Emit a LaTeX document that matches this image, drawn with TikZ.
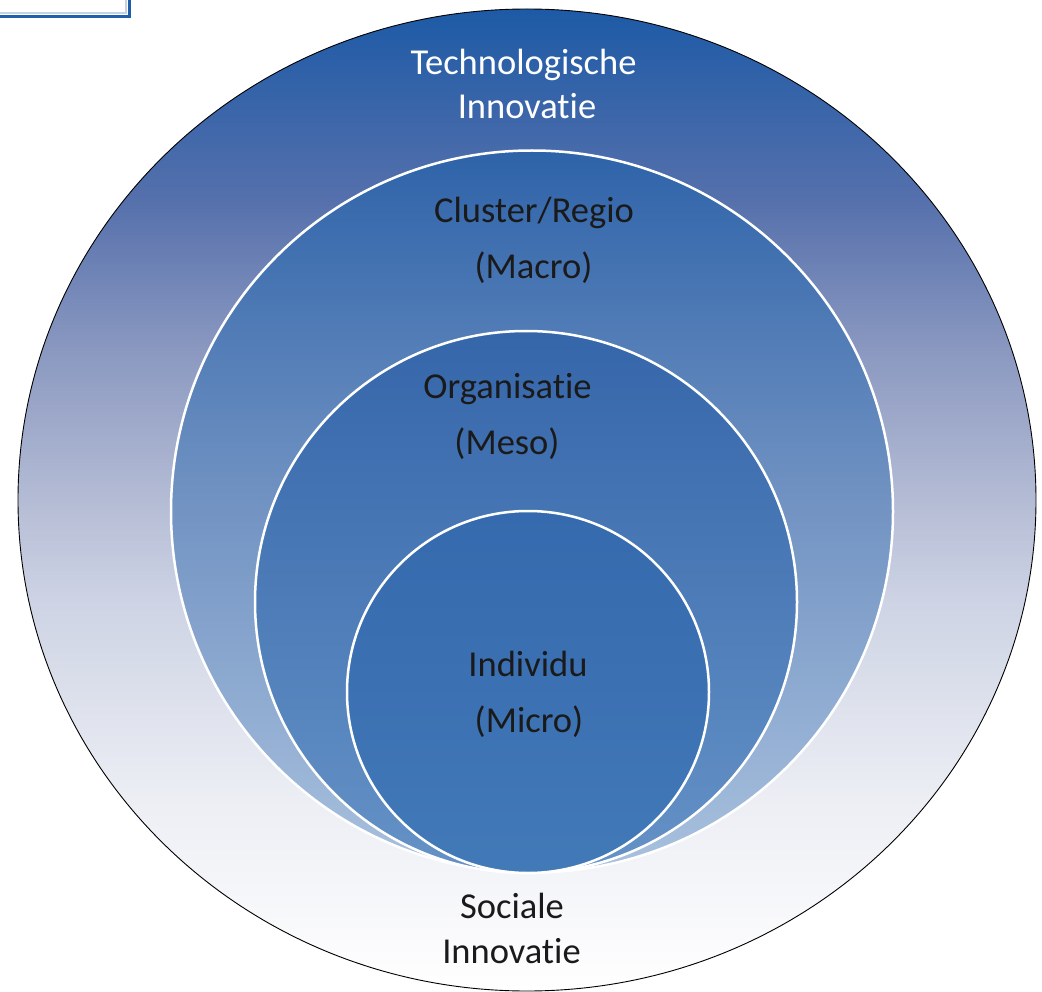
\documentclass[tikz,border=0pt]{standalone}
\usepackage{fontspec}
\setmainfont{Carlito}[Ligatures=NoCommon]
\pgfdeclareverticalshading{outershade}{100bp}{%
  color(0bp)=(white); color(25bp)=(white);
  color(34.8bp)=(rgb,255:red,236;green,238;blue,244);
  color(45bp)=(rgb,255:red,205;green,211;blue,228);
  color(50bp)=(rgb,255:red,180;green,188;blue,213);
  color(57.7bp)=(rgb,255:red,138;green,152;blue,192);
  color(65.3bp)=(rgb,255:red,85;green,112;blue,172);
  color(75bp)=(rgb,255:red,29;green,90;blue,166);
  color(100bp)=(rgb,255:red,29;green,90;blue,166)}
\definecolor{cTwoTop}{HTML}{2E63A9}
\definecolor{cTwoMid}{HTML}{7394C3}
\definecolor{cTwoBot}{HTML}{A9C1DE}
\definecolor{cThreeTop}{HTML}{3566AA}
\definecolor{cThreeBot}{HTML}{6592C6}
\definecolor{cFourTop}{HTML}{356AAE}
\definecolor{cFourBot}{HTML}{4279B7}
\definecolor{txtdark}{HTML}{1A1A1A}
\definecolor{boxblue}{HTML}{1F5FAA}
\definecolor{boxinner}{HTML}{C5D2E6}
\begin{document}
\begin{tikzpicture}[x=1pt,y=-1pt,
  ringline/.style={draw=white,line width=2.5pt},
  lbl/.style={anchor=base,inner sep=0pt,font=\fontsize{36.5}{44}\selectfont,text=txtdark},
  lblw/.style={lbl,text=white}]
\useasboundingbox (0,0) rectangle (1042,992);
% top-left partial box
\draw[draw=boxblue,line width=3pt,fill=white] (-10,-10) rectangle (129.5,16.5);
\draw[draw=boxinner,line width=1.2pt] (-10,-10) rectangle (126,13);
% outer ellipse
\path[shading=outershade,draw=black,line width=0.9pt] (527,500) ellipse [x radius=509,y radius=491];
% circle 2
\path[top color=cTwoTop,bottom color=cTwoBot,middle color=cTwoMid,ringline] (532,511.5) circle [radius=361];
% circle 3
\path[top color=cThreeTop,bottom color=cThreeBot,ringline] (526,602) circle [radius=271];
% circle 4
\path[top color=cFourTop,bottom color=cFourBot,ringline] (528,692) circle [radius=181];
% labels
\node[lblw] (tech1) at (523.5,75) {Technologische};
\node[lblw] (tech2) at (527,119) {Innovatie};
\node[lbl] (clus1) at (534,223) {Cluster/Regio};
\node[lbl] (clus2) at (533.5,279) {(Macro)};
\node[lbl] (org1) at (507.5,399) {Organisatie};
\node[lbl] (org2) at (507,454) {(Meso)};
\node[lbl] (ind1) at (528,676) {Individu};
\node[lbl] (ind2) at (529,732) {(Micro)};
\node[lbl] (soc1) at (512,918) {Sociale};
\node[lbl] (soc2) at (511.5,963) {Innovatie};
\end{tikzpicture}
\end{document}
